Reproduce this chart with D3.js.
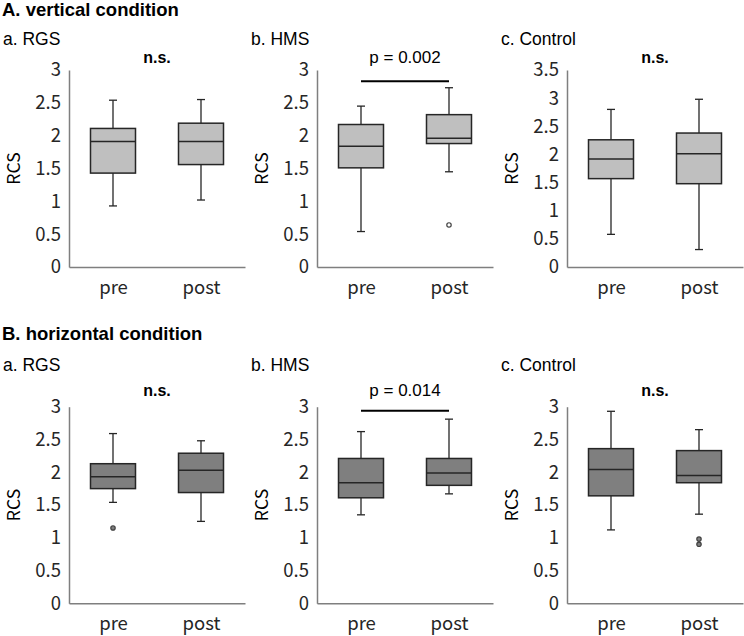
<!DOCTYPE html>
<html>
<head>
<meta charset="utf-8">
<script src="https://cdn.jsdelivr.net/npm/d3@7"></script>
<style>
body { margin: 0; background: #fff; }
svg { display: block; }
</style>
</head>
<body>
<svg width="744" height="636"></svg>
<script>
var width = 744,
    height = 636;

// categories
const groups = ["pre", "post"];
const panelTitles = ["a. RGS", "b. HMS", "c. Control"];
const rowTitles = ["A. vertical condition", "B. horizontal condition"];
const yTickLabels = ["0", "0.5", "1", "1.5", "2", "2.5", "3", "3.5"];

// box stats: [min whisker, q1, median, q3, max whisker] for pre, post
const vertRGS = [[0.93, 1.43, 1.91, 2.11, 2.54], [1.02, 1.56, 1.91, 2.19, 2.55]];
const vertHMS = [[0.54, 1.51, 1.84, 2.17, 2.45], [1.45, 1.88, 1.96, 2.32, 2.73]];
const vertControl = [[0.58, 1.57, 1.92, 2.26, 2.80], [0.31, 1.48, 2.01, 2.38, 2.98]];
const horizRGS = [[1.54, 1.75, 1.93, 2.13, 2.59], [1.25, 1.69, 2.03, 2.29, 2.48]];
const horizHMS = [[1.35, 1.61, 1.84, 2.21, 2.62], [1.67, 1.80, 1.99, 2.21, 2.81]];
const horizControl = [[1.12, 1.64, 2.04, 2.36, 2.93], [1.36, 1.84, 1.95, 2.33, 2.65]];

// outliers per group [pre, post]
const vertRGSOut = [[], []];
const vertHMSOut = [[], [0.64]];
const vertControlOut = [[], []];
const horizRGSOut = [[1.15], []];
const horizHMSOut = [[], []];
const horizControlOut = [[], [0.98, 0.90]];

// y axis maximum per panel
const vertMax = [3, 3, 3.5];
const horizMax = [3, 3, 3];

// significance labels and bar level (null = no bar)
const vertSig = ["n.s.", "p = 0.002", "n.s."];
const vertSigLevel = [null, 2.83, null];
const horizSig = ["n.s.", "p = 0.014", "n.s."];
const horizSigLevel = [null, 2.94, null];

const svg = d3.select("svg");

const panelX = [69, 317, 567];
const rows = [
    { title: rowTitles[0], titleY: 9, subY: 39, sigY: 57, top: 70, bottom: 267,
      stats: [vertRGS, vertHMS, vertControl], outs: [vertRGSOut, vertHMSOut, vertControlOut],
      ymax: vertMax, sig: vertSig, sigLevel: vertSigLevel, fill: "#bfbfbf" },
    { title: rowTitles[1], titleY: 333, subY: 365, sigY: 390, top: 406.7, bottom: 603.3,
      stats: [horizRGS, horizHMS, horizControl], outs: [horizRGSOut, horizHMSOut, horizControlOut],
      ymax: horizMax, sig: horizSig, sigLevel: horizSigLevel, fill: "#7f7f7f" }
];

const tickFont = "'Noto Sans CJK JP', 'DejaVu Sans', sans-serif";
const labelFont = "Arial, 'Liberation Sans', sans-serif";
const boxW = 45;
const capW = 8;

rows.forEach(function (row) {
    svg.append("text")
        .attr("x", 2)
        .attr("y", row.titleY)
        .attr("dominant-baseline", "central")
        .attr("font-family", labelFont)
        .attr("font-weight", "bold")
        .attr("font-size", 18.5)
        .attr("fill", "#000")
        .text(row.title);

    for (var p = 0; p < 3; p++) {
        const ax = panelX[p];
        const g = svg.append("g").attr("transform", "translate(" + ax + ",0)");

        const x = d3.scalePoint().domain(groups).range([0, 176]).padding(0.5);
        const y = d3.scaleLinear().domain([0, row.ymax[p]]).range([row.bottom, row.top]);

        // panel subtitle
        g.append("text")
            .attr("x", -66)
            .attr("y", row.subY)
            .attr("dominant-baseline", "central")
            .attr("font-family", labelFont)
            .attr("font-size", 17.5)
            .attr("fill", "#000")
            .text(panelTitles[p]);

        // y axis
        const yAxis = d3.axisLeft(y)
            .tickValues(d3.range(0, row.ymax[p] + 0.01, 0.5))
            .tickSize(0)
            .tickPadding(8)
            .tickFormat(function (d) { return yTickLabels[Math.round(d * 2)]; });
        const ya = g.append("g").call(yAxis);
        ya.select(".domain").attr("stroke", "#7f7f7f").attr("stroke-width", 1.5);
        ya.selectAll("text")
            .attr("font-family", tickFont)
            .attr("font-size", 18.5)
            .attr("fill", "#262626");

        // x axis
        const xAxis = d3.axisBottom(x).tickSize(0).tickPadding(14);
        const xa = g.append("g").attr("transform", "translate(0," + row.bottom + ")").call(xAxis);
        xa.select(".domain").attr("stroke", "#7f7f7f").attr("stroke-width", 1.5);
        xa.selectAll("text")
            .attr("font-family", tickFont)
            .attr("font-size", 18.5)
            .attr("fill", "#262626");

        // y label
        g.append("text")
            .attr("transform", "translate(-57," + ((row.top + row.bottom) / 2) + ") rotate(-90)")
            .attr("text-anchor", "middle")
            .attr("dominant-baseline", "central")
            .attr("font-family", tickFont)
            .attr("font-size", 17.5)
            .attr("fill", "#000")
            .text("RCS");

        // boxes
        const stats = row.stats[p];
        const boxes = g.selectAll(".box")
            .data(groups)
            .join("g")
            .attr("class", "box");

        boxes.append("line")
            .attr("x1", function (d) { return x(d); })
            .attr("x2", function (d) { return x(d); })
            .attr("y1", function (d, i) { return y(stats[i][0]); })
            .attr("y2", function (d, i) { return y(stats[i][4]); })
            .attr("stroke", "#262626")
            .attr("stroke-width", 1.3);

        [0, 4].forEach(function (k) {
            boxes.append("line")
                .attr("x1", function (d) { return x(d) - capW / 2; })
                .attr("x2", function (d) { return x(d) + capW / 2; })
                .attr("y1", function (d, i) { return y(stats[i][k]); })
                .attr("y2", function (d, i) { return y(stats[i][k]); })
                .attr("stroke", "#262626")
                .attr("stroke-width", 1.3);
        });

        boxes.append("rect")
            .attr("x", function (d) { return x(d) - boxW / 2; })
            .attr("width", boxW)
            .attr("y", function (d, i) { return y(stats[i][3]); })
            .attr("height", function (d, i) { return y(stats[i][1]) - y(stats[i][3]); })
            .attr("fill", row.fill)
            .attr("stroke", "#262626")
            .attr("stroke-width", 1.5);

        boxes.append("line")
            .attr("x1", function (d) { return x(d) - boxW / 2; })
            .attr("x2", function (d) { return x(d) + boxW / 2; })
            .attr("y1", function (d, i) { return y(stats[i][2]); })
            .attr("y2", function (d, i) { return y(stats[i][2]); })
            .attr("stroke", "#262626")
            .attr("stroke-width", 1.5);

        // outliers
        const outs = row.outs[p];
        const outPts = [];
        groups.forEach(function (gname, i) {
            outs[i].forEach(function (v) { outPts.push({ group: gname, value: v }); });
        });
        g.selectAll(".outlier")
            .data(outPts)
            .join("circle")
            .attr("class", "outlier")
            .attr("cx", function (d) { return x(d.group); })
            .attr("cy", function (d) { return y(d.value); })
            .attr("r", 2.2)
            .attr("fill", row.fill == "#bfbfbf" ? "#fff" : row.fill)
            .attr("stroke", "#404040")
            .attr("stroke-width", 1.2);

        // significance
        const isBar = row.sigLevel[p] != null;
        g.append("text")
            .attr("x", (x("pre") + x("post")) / 2)
            .attr("y", row.sigY)
            .attr("text-anchor", "middle")
            .attr("dominant-baseline", "central")
            .attr("font-family", labelFont)
            .attr("font-weight", isBar ? "normal" : "bold")
            .attr("font-size", isBar ? 17 : 16)
            .attr("fill", "#000")
            .text(row.sig[p]);

        if (isBar) {
            g.append("line")
                .attr("x1", x("pre"))
                .attr("x2", x("post"))
                .attr("y1", y(row.sigLevel[p]))
                .attr("y2", y(row.sigLevel[p]))
                .attr("stroke", "#000")
                .attr("stroke-width", 2);
        }
    }
});
</script>
</body>
</html>
